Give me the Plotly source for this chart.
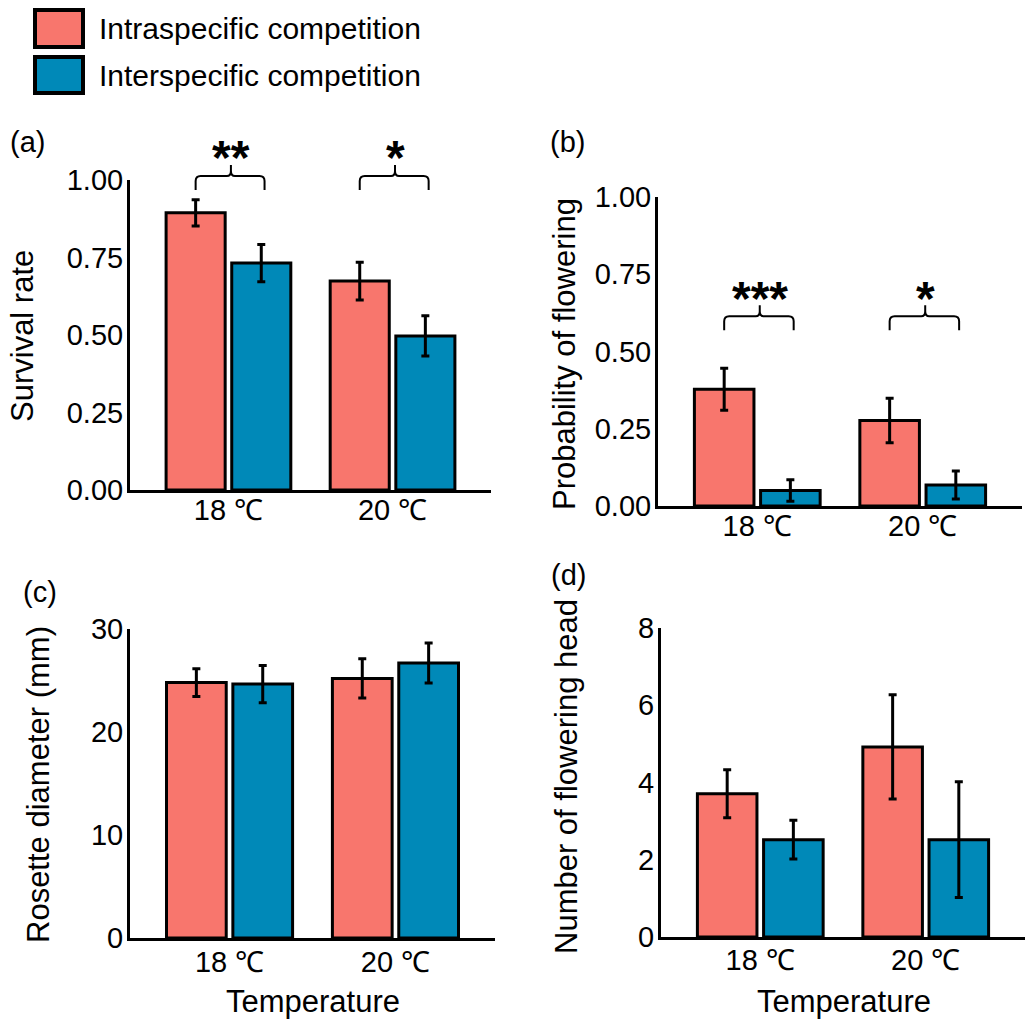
import plotly.graph_objects as go

W, H = 1028, 1019

# ---- data ----
temperatures = ["18 ℃", "20 ℃"]
series_names = ["Intraspecific competition", "Interspecific competition"]
series_colors = ["#F8766D", "#0089B8"]

survival_intra = [0.894, 0.674]
survival_intra_se = [0.042, 0.061]
survival_inter = [0.732, 0.497]
survival_inter_se = [0.060, 0.065]
survival_sig = ["**", "*"]

flowering_intra = [0.378, 0.277]
flowering_intra_se = [0.068, 0.072]
flowering_inter = [0.050, 0.068]
flowering_inter_se = [0.035, 0.045]
flowering_sig = ["***", "*"]

rosette_intra = [24.8, 25.2]
rosette_intra_se = [1.35, 1.9]
rosette_inter = [24.65, 26.7]
rosette_inter_se = [1.8, 1.95]

heads_intra = [3.71, 4.92]
heads_intra_se = [0.62, 1.35]
heads_inter = [2.52, 2.52]
heads_inter_se = [0.5, 1.5]

FONT = "Liberation Sans, Arial, sans-serif"
X_RANGE = [-0.6, 1.6]

# panel geometry in pixels: x span of axis, y pixel of range bottom/top
panels = [
    dict(key="a", x=(130, 491), y=(490, 180), yrange=[0, 1.0],
         ticks=[0, 0.25, 0.5, 0.75, 1.0], ticktext=["0.00", "0.25", "0.50", "0.75", "1.00"],
         intra=survival_intra, intra_se=survival_intra_se,
         inter=survival_inter, inter_se=survival_inter_se,
         sig=survival_sig, bracket_y=1.013, xlabel_standoff=-8,
         ytitle="Survival rate", ytitle_pos=(22, 336), label_pos=(27, 142),
         xtitle=None),
    dict(key="b", x=(658, 1022), y=(506, 197), yrange=[0, 1.0],
         ticks=[0, 0.25, 0.5, 0.75, 1.0], ticktext=["0.00", "0.25", "0.50", "0.75", "1.00"],
         intra=flowering_intra, intra_se=flowering_intra_se,
         inter=flowering_inter, inter_se=flowering_inter_se,
         sig=flowering_sig, bracket_y=0.614, xlabel_standoff=-8,
         ytitle="Probability of flowering", ytitle_pos=(564, 354), label_pos=(567, 142),
         xtitle=None),
    dict(key="c", x=(130, 495), y=(938, 629), yrange=[0, 30],
         ticks=[0, 10, 20, 30], ticktext=["0", "10", "20", "30"],
         intra=rosette_intra, intra_se=rosette_intra_se,
         inter=rosette_inter, inter_se=rosette_inter_se,
         sig=None, bracket_y=None, xlabel_standoff=-4,
         ytitle="Rosette diameter (mm)", ytitle_pos=(38, 785), label_pos=(40, 592),
         xtitle=(313, 1001)),
    dict(key="d", x=(661, 1025), y=(937, 628), yrange=[0, 8],
         ticks=[0, 2, 4, 6, 8], ticktext=["0", "2", "4", "6", "8"],
         intra=heads_intra, intra_se=heads_intra_se,
         inter=heads_inter, inter_se=heads_inter_se,
         sig=None, bracket_y=None, xlabel_standoff=-5,
         ytitle="Number of flowering head", ytitle_pos=(566, 777), label_pos=(568, 575),
         xtitle=(844, 1001)),
]


def px_x(p):
    return p["x"][0] / W, p["x"][1] / W


def px_y(p):
    return 1 - p["y"][0] / H, 1 - p["y"][1] / H


def data_to_paper_x(p, v):
    d0, d1 = px_x(p)
    return d0 + (v - X_RANGE[0]) / (X_RANGE[1] - X_RANGE[0]) * (d1 - d0)


def data_to_paper_y(p, v):
    d0, d1 = px_y(p)
    r0, r1 = p["yrange"]
    return d0 + (v - r0) / (r1 - r0) * (d1 - d0)


fig = go.Figure()
shapes = []
annotations = []

for i, p in enumerate(panels):
    n = "" if i == 0 else str(i + 1)
    xa, ya = "x" + n, "y" + n
    for vals, se, name, color in [
        (p["intra"], p["intra_se"], series_names[0], series_colors[0]),
        (p["inter"], p["inter_se"], series_names[1], series_colors[1]),
    ]:
        fig.add_trace(go.Bar(
            x=temperatures, y=vals, name=name, showlegend=False,
            marker=dict(color=color, line=dict(color="black", width=3)),
            error_y=dict(type="data", array=se, color="black", thickness=3, width=4),
            xaxis=xa, yaxis=ya,
        ))

    axis_common = dict(
        showline=True, linecolor="black", linewidth=3, showgrid=False, zeroline=False,
        ticks="", automargin=False,
        tickfont=dict(family=FONT, size=29, color="black"),
    )
    fig.update_layout(**{
        ("xaxis" + n): dict(axis_common, domain=list(px_x(p)), range=X_RANGE,
                             type="category", anchor=ya,
                             ticklabelstandoff=p["xlabel_standoff"]),
        ("yaxis" + n): dict(axis_common, domain=list(px_y(p)), range=p["yrange"],
                             anchor=xa, tickvals=p["ticks"], ticktext=p["ticktext"],
                             ticklabelstandoff=-2),
    })

    # y-axis title
    tx, ty = p["ytitle_pos"]
    annotations.append(dict(text=p["ytitle"], x=tx / W, y=1 - ty / H, xref="paper", yref="paper",
                            textangle=-90, showarrow=False, xanchor="center", yanchor="middle",
                            font=dict(family=FONT, size=31, color="black")))
    # panel tag
    lx, ly = p["label_pos"]
    annotations.append(dict(text="(" + p["key"] + ")", x=lx / W, y=1 - ly / H, xref="paper",
                            yref="paper", showarrow=False, xanchor="center", yanchor="middle",
                            font=dict(family=FONT, size=29, color="black")))
    if p["xtitle"]:
        cx, cy = p["xtitle"]
        annotations.append(dict(text="Temperature", x=cx / W, y=1 - cy / H, xref="paper",
                                yref="paper", showarrow=False, xanchor="center", yanchor="middle",
                                font=dict(family=FONT, size=31, color="black")))

    # significance brackets
    if p["sig"]:
        dx, dy = 1 / W, 1 / H
        for c, stars in enumerate(p["sig"]):
            x0 = data_to_paper_x(p, c - 0.2)
            x1 = data_to_paper_x(p, c + 0.22)
            xm = data_to_paper_x(p, c + 0.015)
            yt = data_to_paper_y(p, p["bracket_y"])
            r, drop, notch = 5, 14, 11
            path = (
                f"M {x0},{yt - drop * dy} L {x0},{yt - r * dy} "
                f"Q {x0},{yt} {x0 + r * dx},{yt} L {xm - 4 * dx},{yt} "
                f"Q {xm},{yt} {xm},{yt + 5 * dy} L {xm},{yt + notch * dy} "
                f"M {xm},{yt + 5 * dy} Q {xm},{yt} {xm + 4 * dx},{yt} "
                f"L {x1 - r * dx},{yt} Q {x1},{yt} {x1},{yt - r * dy} L {x1},{yt - drop * dy}"
            )
            shapes.append(dict(type="path", path=path, xref="paper", yref="paper",
                               line=dict(color="black", width=2)))
            annotations.append(dict(text=stars, x=xm, y=yt + (notch + 7) * dy, xref="paper",
                                    yref="paper", showarrow=False, xanchor="center",
                                    yanchor="middle",
                                    font=dict(family=FONT, size=48, color="black", weight="bold")))

# legend drawn as framed swatches with labels
legend_rows = [(10, 47), (57, 93)]
for (y0, y1), name, color in zip(legend_rows, series_names, series_colors):
    shapes.append(dict(type="rect", xref="paper", yref="paper",
                       x0=35 / W, x1=83 / W, y0=1 - y1 / H, y1=1 - y0 / H,
                       fillcolor=color, line=dict(color="black", width=4)))
    annotations.append(dict(text=name, x=97 / W, y=1 - (y0 + y1) / 2 / H, xref="paper",
                            yref="paper", showarrow=False, xanchor="left", yanchor="middle",
                            font=dict(family=FONT, size=30, color="black")))

fig.update_layout(
    template="none",
    width=W, height=H, margin=dict(l=0, r=0, t=0, b=0),
    paper_bgcolor="white", plot_bgcolor="white",
    barmode="group", bargap=0.2, bargroupgap=0.1,
    shapes=shapes, annotations=annotations, showlegend=False,
)

fig.write_html("out.html")
